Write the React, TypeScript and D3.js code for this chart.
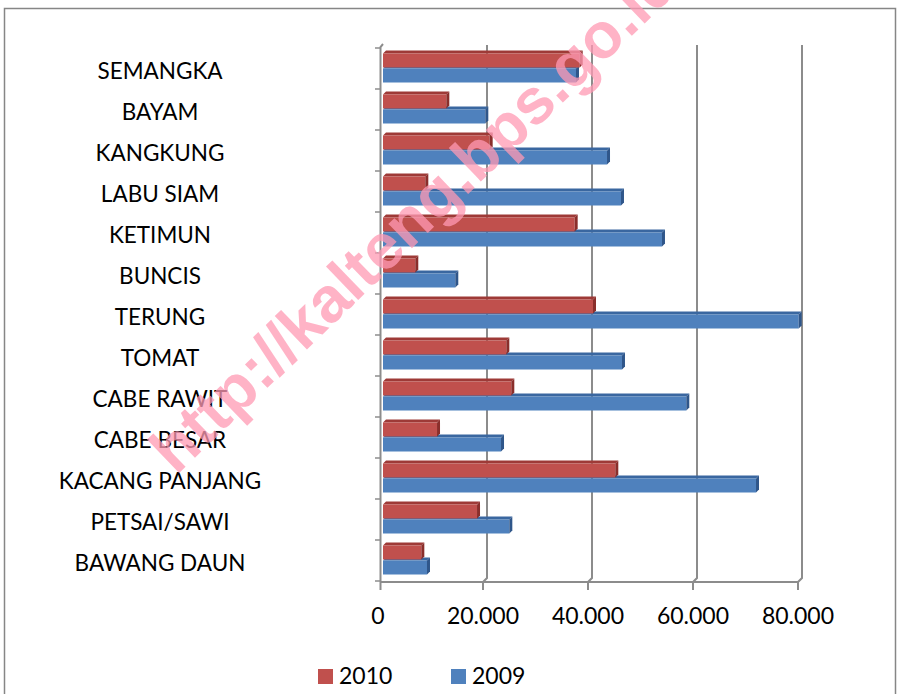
import React from "react";
import * as d3 from "d3";

const categories = [
  "SEMANGKA",
  "BAYAM",
  "KANGKUNG",
  "LABU SIAM",
  "KETIMUN",
  "BUNCIS",
  "TERUNG",
  "TOMAT",
  "CABE RAWIT",
  "CABE BESAR",
  "KACANG PANJANG",
  "PETSAI/SAWI",
  "BAWANG DAUN",
];
const series = ["2010", "2009"];
const values2010 = [37660, 12250, 20510, 8250, 36700, 6340, 40190, 23680, 24630, 10480, 44440, 18100, 7490];
const values2009 = [36950, 19680, 42860, 45520, 53330, 13960, 79370, 45710, 57960, 22670, 71240, 24250, 8570];
const tickValues = [0, 20000, 40000, 60000, 80000];
const tickLabels = ["0", "20.000", "40.000", "60.000", "80.000"];
const watermark = "http://kalteng.bps.go.id";

const W = 899;
const H = 694;
const FONT = "Lato, 'Open Sans', sans-serif";

const colors: Record<string, { front: string; top: string; side: string }> = {
  "2010": { front: "#C0504D", top: "#9E3A37", side: "#8A2E2B" },
  "2009": { front: "#4F81BD", top: "#3A67A0", side: "#2F568A" },
};

export default function App() {
  const x = d3.scaleLinear().domain([0, 80000]).range([382, 802]);
  const y = d3.scaleBand<string>().domain(categories).range([48, 581]);
  const sub = d3.scaleBand<string>().domain(series).range([5.5, 35.5]);
  const depth = 3;
  const front = -4;
  const floorBack = 578;
  const floorFront = 582;

  const dataBySeries: Record<string, number[]> = { "2010": values2010, "2009": values2009 };

  const bars: JSX.Element[] = [];
  ["2009", "2010"].forEach((s) => {
    const vals = dataBySeries[s];
    categories.forEach((c, i) => {
      const by = (y(c) as number) + (sub(s) as number);
      const bh = sub.bandwidth() - 1;
      const x0 = x(0) + 1;
      const x1 = x(vals[i]);
      const col = colors[s];
      bars.push(
        <g key={s + c}>
          <polygon
            points={`${x0},${by} ${x0 + depth},${by - depth} ${x1 + depth},${by - depth} ${x1},${by}`}
            fill={col.top}
          />
          <rect x={x0} y={by} width={x1 - x0} height={bh} fill={col.front} />
          <polygon
            points={`${x1},${by} ${x1 + depth},${by - depth} ${x1 + depth},${by + bh - depth} ${x1},${by + bh}`}
            fill={col.side}
          />
        </g>
      );
    });
  });

  const gridColor = "#8C8C8C";
  const y0 = y.range()[0];

  return (
    <svg
      width={W}
      height={H}
      style={{ position: "absolute", left: 0, top: 0, background: "#fff" }}
      fontFamily={FONT}
    >
      <rect x={0} y={0} width={W} height={H} fill="#fff" />
      <rect x={4.5} y={8.5} width={891} height={720} fill="none" stroke="#868686" strokeWidth={1.5} />

      {tickValues.slice(1).map((v) => (
        <path
          key={"g" + v}
          d={`M${x(v)},${y0 - 3} L${x(v)},${floorBack} L${x(v) + front},${floorFront}`}
          fill="none"
          stroke={gridColor}
          strokeWidth={2}
        />
      ))}
      <path d={`M${x(0) + 1},${y0 - 4} L${x(0) - 1.5},${y0 - 1} L${x(0) - 1.5},${floorFront + 8}`} fill="none" stroke={gridColor} strokeWidth={2} />
      <line x1={x(0) - 1.5} x2={x(80000) + front} y1={floorFront} y2={floorFront} stroke={gridColor} strokeWidth={2} />
      {d3.range(categories.length + 1).map((i) => (
        <line
          key={"ct" + i}
          x1={x(0) - 7}
          x2={x(0) - 1.5}
          y1={y0 + i * y.step()}
          y2={y0 + i * y.step()}
          stroke={gridColor}
          strokeWidth={1.5}
        />
      ))}
      {tickValues.slice(1).map((v) => (
        <line key={"vt" + v} x1={x(v) + front} x2={x(v) + front} y1={floorFront} y2={floorFront + 8} stroke={gridColor} strokeWidth={2} />
      ))}

      {bars}

      {categories.map((c) => (
        <text key={"l" + c} x={160} y={(y(c) as number) + 30.5} textAnchor="middle" fontSize={22.5} fill="#000">
          {c}
        </text>
      ))}

      {tickValues.map((v, i) => (
        <text key={"tl" + v} x={x(v) - 4} y={624} textAnchor="middle" fontSize={23} fill="#000">
          {tickLabels[i]}
        </text>
      ))}

      <rect x={318} y={669} width={15} height={15} fill={colors["2010"].front} />
      <text x={339} y={684} fontSize={23} fill="#000">{series[0]}</text>
      <rect x={451} y={669} width={15} height={15} fill={colors["2009"].front} />
      <text x={472} y={684} fontSize={23} fill="#000">{series[1]}</text>

      <text
        x={0}
        y={0}
        transform="translate(176,476) rotate(-44)"
        fontFamily="'Liberation Sans', Arial, sans-serif"
        fontWeight="bold"
        fontSize={64}
        fill="#FF9AB4"
        opacity={0.75}
      >
        {watermark}
      </text>
    </svg>
  );
}
